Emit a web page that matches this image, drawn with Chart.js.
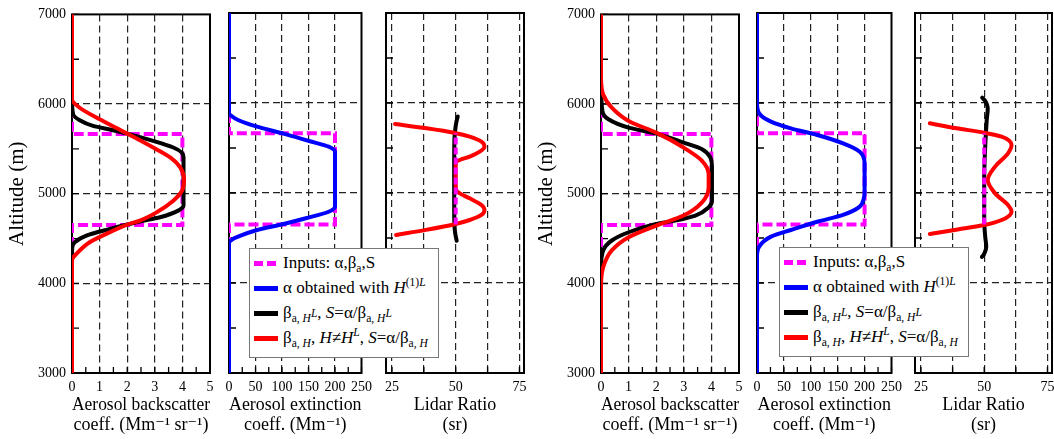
<!DOCTYPE html>
<html>
<head>
<meta charset="utf-8">
<script src="https://cdn.jsdelivr.net/npm/chart.js@4.4.1/dist/chart.umd.min.js"></script>
<style>
  html, body { margin: 0; padding: 0; background: #fff; overflow: hidden; }
  #wrap { position: relative; width: 1054px; height: 439px; }
  .legend { position: absolute; width: 188px; height: 108px; background: #fff; border: 1px solid #777;
            font: 17px 'Liberation Serif', 'DejaVu Serif', serif; color: #000; z-index: 10; }
  .legend .row { position: absolute; left: 0; height: 20px; display: flex; align-items: center; white-space: nowrap; }
  .legend .sw { width: 24px; height: 5px; margin: 0 5px 0 4px; flex: none; }
  .legend sub, .legend sup { font-size: 68%; line-height: 0; }
  .legend sub sup { font-size: 100%; }
</style>
</head>
<body>
<div id="wrap"></div>
<script>
// ---- ticks ----
const altitudeTicks = [3000, 3500, 4000, 4500, 5000, 5500, 6000, 6500, 7000];
const altitudeLabels = [3000, 4000, 5000, 6000, 7000];
const altitudeGrid = [4000, 5000, 6000];
const backscatterTicks = [0, 0.5, 1, 1.5, 2, 2.5, 3, 3.5, 4, 4.5, 5];
const backscatterLabels = [0, 1, 2, 3, 4, 5];
const backscatterGrid = [1, 2, 3, 4];
const extinctionTicks = [0, 25, 50, 75, 100, 125, 150, 175, 200, 225, 250];
const extinctionLabels = [0, 50, 100, 150, 200, 250];
const extinctionGrid = [50, 100, 150, 200];
const lidarTicks = [25, 37.5, 50, 62.5, 75];
const lidarLabels = [25, 50, 75];
const lidarGrid = [25, 37.5, 50, 62.5, 75];

// ---- inputs (same in both groups) ----
const inputAlt = [3000, 4650, 4650, 5665, 5665, 7000];
const inputBeta = [0, 0, 4, 4, 0, 0];
const inputAlpha = [0, 0, 200, 200, 0, 0];
const inputSAlt = [4650, 5665];
const inputS = [50, 50];

// ---- left group ----
const leftBetaHLAlt = [3000, 4300, 4404, 4459, 4533, 4607, 4656, 4689, 4737, 4811, 4867, 5404, 5459, 5515, 5589, 5670, 5708, 5756, 5819, 5885, 6052, 7000];
const leftBetaHL = [0, 0, 0.01, 0.1, 0.52, 1.37, 2.0, 2.46, 3.19, 3.85, 4.04, 4.04, 3.98, 3.67, 2.94, 2.0, 1.49, 0.76, 0.28, 0.04, 0, 0];
const leftBetaHAlt = [3000, 4256, 4348, 4459, 4570, 4656, 4700, 4793, 4922, 5030, 5159, 5293, 5404, 5515, 5670, 5830, 5959, 6052, 7000];
const leftBetaH = [0, 0, 0.22, 0.64, 1.37, 2.0, 2.46, 3.07, 3.67, 3.98, 4.06, 3.92, 3.56, 2.94, 2.0, 1.0, 0.28, 0, 0];
const leftAlphaAlt = [3000, 4444, 4480, 4515, 4589, 4656, 4719, 4792, 4848, 5459, 5515, 5578, 5659, 5737, 5811, 5850, 5889, 7000];
const leftAlpha = [0, 0, 5, 17, 53, 103, 145, 188, 200, 200, 188, 151, 103, 53, 17, 6, 0, 0];
const leftSHLAlt = [4470, 4520, 4600, 4800, 5000, 5300, 5600, 5700, 5780, 5850];
const leftSHL = [50.4, 50.0, 49.6, 49.4, 49.4, 49.4, 49.5, 49.8, 50.2, 50.8];
const leftSHAlt = [4533, 4590, 4656, 4700, 4756, 4811, 4867, 4941, 4996, 5033, 5100, 5300, 5341, 5367, 5404, 5459, 5515, 5570, 5626, 5667, 5719, 5767];
const leftSH = [26.6, 38.3, 50.0, 55.5, 60.1, 61.3, 60.1, 55.5, 51.6, 50.2, 50.0, 50.0, 50.2, 51.6, 55.5, 59.4, 61.3, 60.1, 55.5, 49.7, 38.6, 26.2];

// ---- right group ----
const rightBetaHLAlt = [3000, 4181, 4367, 4478, 4570, 4663, 4700, 4756, 4848, 4922, 5293, 5404, 5496, 5570, 5670, 5737, 5830, 5922, 6256, 7000];
const rightBetaHL = [0, 0, 0.08, 0.39, 1.0, 2.0, 2.69, 3.42, 3.9, 4.02, 4.02, 3.96, 3.66, 2.99, 2.0, 1.0, 0.27, 0.05, 0, 0];
const rightBetaHAlt = [3000, 3959, 4181, 4367, 4515, 4644, 4756, 4904, 5070, 5219, 5367, 5515, 5681, 5811, 5959, 6107, 6300, 7000];
const rightBetaH = [0, 0, 0.08, 0.39, 1.0, 2.0, 2.99, 3.66, 3.9, 3.9, 3.66, 2.99, 2.0, 1.0, 0.39, 0.08, 0, 0];
const rightAlphaAlt = [3000, 4293, 4404, 4515, 4589, 4681, 4756, 4848, 4930, 5000, 5330, 5459, 5552, 5644, 5718, 5793, 5885, 6000, 7000];
const rightAlpha = [0, 0, 4, 26, 63, 112, 160, 191, 198, 200, 200, 191, 160, 112, 63, 26, 4, 0, 0];
const rightSHLAlt = [4290, 4320, 4360, 4404, 4515, 4700, 5144, 5515, 5811, 5940, 5990, 6030, 6060];
const rightSHL = [49.1, 49.9, 50.5, 50.8, 50.4, 50.0, 50.0, 50.4, 51.0, 51.4, 51.0, 50.2, 49.2];
const rightSHAlt = [4544, 4595, 4644, 4700, 4793, 4867, 4996, 5144, 5293, 5441, 5533, 5626, 5670, 5720, 5774];
const rightSH = [28.5, 39.5, 50.0, 56.9, 60.8, 59.4, 54.3, 51.4, 54.3, 59.4, 60.8, 56.9, 50.0, 39.0, 28.5];

const FONT = "'Liberation Serif', 'DejaVu Serif', serif";
const MAGENTA = '#ff00ff', BLUE = '#0000ff', BLACK = '#000000', RED = '#ff0000';

function pts(alts, vals) { return alts.map((a, i) => ({ x: vals[i], y: a })); }

function curve(label, alts, vals, color) {
  return { label, data: pts(alts, vals), borderColor: color, backgroundColor: color, borderWidth: 4,
           pointRadius: 0, fill: false, cubicInterpolationMode: 'monotone', borderCapStyle: 'round' };
}
function dashed(label, alts, vals, dash) {
  return { label, data: pts(alts, vals), borderColor: MAGENTA, backgroundColor: MAGENTA, borderWidth: 4,
           pointRadius: 0, fill: false, tension: 0, borderDash: dash, borderCapStyle: 'butt' };
}

// frame round each panel + inward tick marks
const framePlugin = {
  id: 'frame',
  beforeDatasetsDraw(chart) {
    const { ctx, chartArea: a, scales: { x, y } } = chart;
    ctx.save();
    ctx.strokeStyle = '#000';
    ctx.lineWidth = 1.3;
    ctx.beginPath();
    x.ticks.forEach(t => { const px = x.getPixelForValue(t.value); ctx.moveTo(px, a.bottom); ctx.lineTo(px, a.bottom - 6); });
    y.ticks.forEach(t => { const py = y.getPixelForValue(t.value); ctx.moveTo(a.left, py); ctx.lineTo(a.left + 7, py); });
    ctx.stroke();
    ctx.lineWidth = 2;
    ctx.strokeRect(a.left, a.top, a.right - a.left, a.bottom - a.top);
    ctx.restore();
  }
};

const wrap = document.getElementById('wrap');

function buildPanel(p) {
  const padL = p.showY ? 72 : 12, padR = 12;
  const cv = document.createElement('canvas');
  cv.width = padL + p.width + padR;
  cv.height = 439;
  cv.style.cssText = 'position:absolute;top:0;left:' + (p.left - padL) + 'px;width:' + cv.width + 'px;height:439px';
  wrap.appendChild(cv);
  new Chart(cv, {
    type: 'line',
    data: { datasets: p.datasets },
    options: {
      responsive: false,
      animation: false,
      indexAxis: 'y',
      layout: { padding: { top: 13, right: padR, left: 0, bottom: 0 } },
      plugins: { legend: { display: false }, tooltip: { enabled: false } },
      scales: {
        x: {
          type: 'linear', position: 'bottom', min: p.xMin, max: p.xMax,
          afterBuildTicks: s => { s.ticks = p.xTicks.map(v => ({ value: v })); },
          afterFit: s => { s.height = 66; },
          grid: { drawTicks: false, lineWidth: 1.2, color: c => p.xGrid.includes(c.tick.value) ? '#222' : 'rgba(0,0,0,0)' },
          border: { display: false, dash: [7, 4] },
          ticks: { autoSkip: false, maxRotation: 0, padding: 6, color: '#000', font: { family: FONT, size: 14 },
                   callback: v => p.xLabels.includes(v) ? String(v) : '' },
          title: { display: true, text: p.xTitle, color: '#000', font: { family: FONT, size: 18, lineHeight: 1.1 },
                   padding: { top: 0, bottom: 4 } }
        },
        y: {
          type: 'linear', position: 'left', min: 3000, max: 7000,
          afterBuildTicks: s => { s.ticks = altitudeTicks.map(v => ({ value: v })); },
          afterFit: s => { s.width = padL; },
          grid: { drawTicks: false, lineWidth: 1.2, color: c => altitudeGrid.includes(c.tick.value) ? '#222' : 'rgba(0,0,0,0)' },
          border: { display: false, dash: [7, 4] },
          ticks: { display: p.showY, autoSkip: false, padding: 6, color: '#000', font: { family: FONT, size: 14 },
                   callback: v => altitudeLabels.includes(v) ? String(v) : '' },
          title: { display: p.showY, text: 'Altitude (m)', color: '#000', font: { family: FONT, size: 21 },
                   padding: { top: 5, bottom: 0 } }
        }
      }
    },
    plugins: [framePlugin]
  });
}

const betaTitle = ['Aerosol backscatter', 'coeff. (Mm\u207B\u00B9 sr\u207B\u00B9)'];
const alphaTitle = ['Aerosol extinction', 'coeff. (Mm\u207B\u00B9)'];
const lidarTitle = ['Lidar Ratio', '(sr)'];

function group(offsets, d) {
  buildPanel({ left: offsets[0], width: 138, showY: true, xMin: 0, xMax: 5,
    xTicks: backscatterTicks, xLabels: backscatterLabels, xGrid: backscatterGrid, xTitle: betaTitle,
    datasets: [
      curve('\u03B2a,H', d.betaHAlt, d.betaH, RED),
      curve('\u03B2a,HL', d.betaHLAlt, d.betaHL, BLACK),
      dashed('Inputs', inputAlt, inputBeta, [10, 4])
    ] });
  buildPanel({ left: offsets[1], width: offsets[2], showY: false, xMin: 0, xMax: 250,
    xTicks: extinctionTicks, xLabels: extinctionLabels, xGrid: extinctionGrid, xTitle: alphaTitle,
    datasets: [
      curve('\u03B1', d.alphaAlt, d.alpha, BLUE),
      dashed('Inputs', inputAlt, inputAlpha, [10, 4])
    ] });
  buildPanel({ left: offsets[3], width: offsets[4], showY: false, xMin: 22.65, xMax: 76.8,
    xTicks: lidarTicks, xLabels: lidarLabels, xGrid: lidarGrid, xTitle: lidarTitle,
    datasets: [
      dashed('Inputs', inputSAlt, inputS, [7, 3]),
      curve('S H', d.sHAlt, d.sH, RED),
      curve('S HL', d.sHLAlt, d.sHL, BLACK)
    ] });
}

group([72, 229, 137, 386, 138], {
  betaHAlt: leftBetaHAlt, betaH: leftBetaH, betaHLAlt: leftBetaHLAlt, betaHL: leftBetaHL,
  alphaAlt: leftAlphaAlt, alpha: leftAlpha, sHAlt: leftSHAlt, sH: leftSH, sHLAlt: leftSHLAlt, sHL: leftSHL
});
group([601, 757, 139, 915, 137], {
  betaHAlt: rightBetaHAlt, betaH: rightBetaH, betaHLAlt: rightBetaHLAlt, betaHL: rightBetaHL,
  alphaAlt: rightAlphaAlt, alpha: rightAlpha, sHAlt: rightSHAlt, sH: rightSH, sHLAlt: rightSHLAlt, sHL: rightSHL
});

// legends (HTML, for the sub/superscripts)
const legendRows = [
  ['dash', 'Inputs: \u03B1,\u03B2<sub>a</sub>,S'],
  [BLUE, '\u03B1 obtained with <i>H</i><sup>(1)<i>L</i></sup>'],
  [BLACK, '\u03B2<sub>a, <i>H</i><sup><i>L</i></sup></sub>, <i>S</i>=\u03B1/\u03B2<sub>a, <i>H</i><sup><i>L</i></sup></sub>'],
  [RED, '\u03B2<sub>a, <i>H</i></sub>, <i>H</i>\u2260<i>H</i><sup><i>L</i></sup>, <i>S</i>=\u03B1/\u03B2<sub>a, <i>H</i></sub>']
];
[[249, 248], [779, 247]].forEach(([l, t]) => {
  const box = document.createElement('div');
  box.className = 'legend';
  box.style.left = l + 'px';
  box.style.top = t + 'px';
  legendRows.forEach(([c, html], i) => {
    const row = document.createElement('div');
    row.className = 'row';
    row.style.top = (4 + i * 25) + 'px';
    const sw = document.createElement('span');
    sw.className = 'sw';
    sw.style.background = c === 'dash'
      ? 'repeating-linear-gradient(90deg,' + MAGENTA + ' 0 9px,transparent 9px 13px)' : c;
    const tx = document.createElement('span');
    tx.innerHTML = html;
    row.appendChild(sw);
    row.appendChild(tx);
    box.appendChild(row);
  });
  wrap.appendChild(box);
});
</script>
</body>
</html>
